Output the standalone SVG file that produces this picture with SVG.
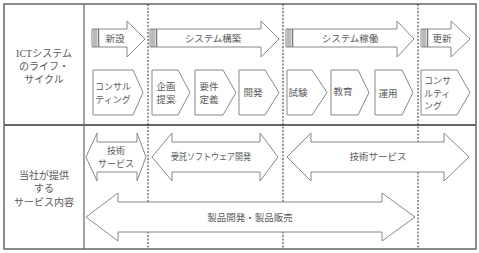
<svg xmlns="http://www.w3.org/2000/svg" width="479" height="253" viewBox="0 0 479 253">
<style>
.frame{fill:none;stroke:#666;stroke-width:1.5}
.div{stroke:#666;stroke-width:1.2}
.dash{stroke:#333;stroke-width:1;stroke-dasharray:2,1.5}
.shape{fill:#fff;stroke:#888;stroke-width:1}
.stripe{stroke:#777;stroke-width:1}
text{font-family:"Liberation Serif","Noto Sans CJK JP",serif;font-size:9.5px;fill:#5a5a5a;text-anchor:middle;dominant-baseline:central}
.big{font-size:10px}
.sm{font-size:9px}
.l{text-anchor:start}
</style>
<rect width="479" height="253" fill="#fff"/>
<g id="grid">
<rect class="frame" x="4" y="4" width="472" height="245"/>
<line class="div" x1="84" y1="4" x2="84" y2="249"/>
<line class="div" x1="4" y1="125" x2="476" y2="125" style="stroke-width:1.8"/>
<line class="dash" x1="148" y1="4" x2="148" y2="249"/>
<line class="dash" x1="283" y1="4" x2="283" y2="249"/>
<line class="dash" x1="418" y1="4" x2="418" y2="249"/>
</g>
<g id="label-lifecycle">
<text class="big" x="44" y="53">ICTシステム</text>
<text class="big" x="44" y="66">のライフ・</text>
<text class="big" x="44" y="79">サイクル</text>
</g>
<g id="label-services">
<text class="big" x="44" y="175">当社が提供</text>
<text class="big" x="44" y="188">する</text>
<text class="big" x="44" y="202">サービス内容</text>
</g>
<g id="phase-new">
<polygon class="shape" points="92,29 127,29 127,21 145,39 127,57 127,47 92,47"/>
<line class="stripe" x1="94" y1="29" x2="94" y2="47"/><line class="stripe" x1="96" y1="29" x2="96" y2="47"/><line class="stripe" x1="98.5" y1="29" x2="98.5" y2="47" style="stroke-width:1.5"/>
<text x="115" y="39">新設</text>
</g>
<g id="phase-build">
<polygon class="shape" points="150,29 261,29 261,21 279,39 261,57 261,47 150,47"/>
<line class="stripe" x1="152" y1="29" x2="152" y2="47"/><line class="stripe" x1="154" y1="29" x2="154" y2="47"/><line class="stripe" x1="156.5" y1="29" x2="156.5" y2="47" style="stroke-width:1.5"/>
<text x="213" y="39">システム構築</text>
</g>
<g id="phase-operate">
<polygon class="shape" points="286,29 397,29 397,21 414,39 397,57 397,47 286,47"/>
<line class="stripe" x1="288" y1="29" x2="288" y2="47"/><line class="stripe" x1="290" y1="29" x2="290" y2="47"/><line class="stripe" x1="292.5" y1="29" x2="292.5" y2="47" style="stroke-width:1.5"/>
<text x="350" y="39">システム稼働</text>
</g>
<g id="phase-renew">
<polygon class="shape" points="421,29 451,29 451,21 470,39 451,57 451,47 421,47"/>
<line class="stripe" x1="423" y1="29" x2="423" y2="47"/><line class="stripe" x1="425" y1="29" x2="425" y2="47"/><line class="stripe" x1="427.5" y1="29" x2="427.5" y2="47" style="stroke-width:1.5"/>
<text x="442" y="39">更新</text>
</g>
<g id="step-consult1">
<polygon class="shape" points="93,70 133,70 143,92.5 133,115 93,115"/>
<text class="sm" x="113" y="87">コンサル</text>
<text class="sm" x="113" y="100">ティング</text>
</g>
<g id="step-plan">
<polygon class="shape" points="152,70 178,70 190,92.5 178,115 152,115"/>
<text x="166" y="87">企画</text>
<text x="166" y="100">提案</text>
</g>
<g id="step-req">
<polygon class="shape" points="195,70 223,70 236,92.5 223,115 195,115"/>
<text x="209" y="87">要件</text>
<text x="209" y="100">定義</text>
</g>
<g id="step-dev">
<polygon class="shape" points="239,70 265,70 279,92.5 265,115 239,115"/>
<text x="253" y="93">開発</text>
</g>
<g id="step-test">
<polygon class="shape" points="287,70 312,70 327,92.5 312,115 287,115"/>
<text x="298" y="93">試験</text>
</g>
<g id="step-edu">
<polygon class="shape" points="331,70 358,70 369,92.5 358,115 331,115"/>
<text x="343" y="92">教育</text>
</g>
<g id="step-ops">
<polygon class="shape" points="375,70 402,70 413,92.5 402,115 375,115"/>
<text x="388" y="94">運用</text>
</g>
<g id="step-consult2">
<polygon class="shape" points="421,70 457,70 470,92.5 457,115 421,115"/>
<text class="sm l" x="424" y="81">コンサ</text>
<text class="sm l" x="424" y="94">ルティ</text>
<text class="sm l" x="424" y="106">ング</text>
</g>
<g id="svc-tech1">
<polygon class="shape" points="86,157 97,133 97,142 137,142 137,133 146,157 137,181 137,172 97,172 97,181"/>
<text class="sm" x="116" y="151">技術</text>
<text class="sm" x="116" y="164">サービス</text>
</g>
<g id="svc-contract">
<polygon class="shape" points="152,157 172,133 172,142 260,142 260,133 278,157 260,181 260,172 172,172 172,181"/>
<text x="211" y="157" textLength="80" lengthAdjust="spacingAndGlyphs">受託ソフトウェア開発</text>
</g>
<g id="svc-tech2">
<polygon class="shape" points="287,157 311,133 311,142 444,142 444,133 469,157 444,181 444,172 311,172 311,181"/>
<text x="378" y="157">技術サービス</text>
</g>
<g id="svc-product">
<polygon class="shape" points="86,217 118,193 118,202 382,202 382,193 415,217 382,241 382,232 118,232 118,241"/>
<text x="250" y="218">製品開発・製品販売</text>
</g>
</svg>
